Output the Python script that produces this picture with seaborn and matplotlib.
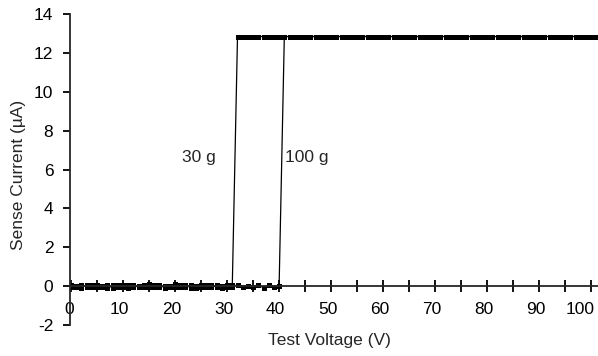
import matplotlib
matplotlib.use("Agg")
import matplotlib.pyplot as plt
import matplotlib.transforms as mtransforms
import seaborn as sns
import pandas as pd

# Data
v30_low = list(range(0, 32))
i30_low = [-0.05, 0.02, -0.08, 0.06, -0.03, 0.08, -0.06, 0.04, -0.09, 0.05,
           -0.02, 0.07, -0.07, 0.03, -0.05, 0.09, -0.04, 0.06, -0.08, 0.02,
           -0.06, 0.08, -0.03, 0.05, -0.09, 0.04, -0.02, 0.07, -0.07, 0.03,
           -0.05, 0.06]
v30_high = list(range(32, 102))
i30_high = [12.84] * len(v30_high)

v100_low = list(range(0, 41))
i100_low = [0.04, -0.07, 0.06, -0.04, 0.08, -0.06, 0.03, -0.08, 0.07, -0.03,
            0.05, -0.09, 0.04, -0.05, 0.08, -0.02, 0.06, -0.07, 0.03, -0.05,
            0.09, -0.04, 0.05, -0.08, 0.02, -0.06, 0.07, -0.03, 0.06, -0.09,
            0.04, -0.05, 0.08, -0.07, 0.03, -0.06, 0.05, -0.08, 0.07, -0.04,
            0.02]
v100_high = list(range(41, 102))
i100_high = [12.84] * len(v100_high)

series_labels = ["30 g", "100 g"]
x_ticks = list(range(0, 101, 10))
x_minor_ticks = list(range(5, 101, 10))
y_ticks = list(range(-2, 15, 2))

df = pd.concat([
    pd.DataFrame({"V": v30_low + v30_high, "I": i30_low + i30_high, "load": "30 g"}),
    pd.DataFrame({"V": v100_low + v100_high, "I": i100_low + i100_high, "load": "100 g"}),
])

sns.set_style("ticks")
plt.rcParams["font.family"] = ["Liberation Sans", "DejaVu Sans"]
plt.rcParams["axes.unicode_minus"] = False

FS = 12.5
fig = plt.figure(figsize=(5.98, 3.56), dpi=100)
ax = fig.add_axes([70 / 598, 31 / 356, 528 / 598, 311 / 356])

sns.lineplot(data=df, x="V", y="I", units="load", estimator=None, sort=False,
             color="black", linewidth=0.9, marker="s", markersize=3.6,
             markeredgewidth=0, ax=ax)

ax.set_xlim(-0.2, 101.3)
ax.set_ylim(-2, 14)
ax.set_xticks(x_ticks)
ax.set_xticks(x_minor_ticks, minor=True)
ax.set_yticks(y_ticks)
ax.spines["top"].set_visible(False)
ax.spines["right"].set_visible(False)
ax.spines["bottom"].set_position(("data", 0))
ax.spines["left"].set_linewidth(1.3)
ax.spines["bottom"].set_linewidth(1.3)
ax.tick_params(axis="x", which="both", direction="inout", length=9, width=1.3,
               labelsize=FS, pad=7, colors="black")
ax.tick_params(axis="y", direction="out", length=5, width=1.3, labelsize=FS, pad=7, colors="black")
ax.set_xlabel("Test Voltage (V)", fontsize=FS)
ax.set_ylabel("Sense Current (µA)", fontsize=FS)
ax.xaxis.set_label_coords(0.492, -0.025)
ax.yaxis.set_label_coords(-0.083, 0.482)

# Excel-like label placement: slightly left of the tick, last label kept inside
xlabels = ax.get_xticklabels()
for i, lab in enumerate(xlabels):
    if i == 0:
        dx_px = -2
    elif i == len(xlabels) - 1:
        dx_px = -11
    else:
        dx_px = -3.5
    lab.set_transform(lab.get_transform() +
                      mtransforms.ScaledTranslation(dx_px / 100, 0, fig.dpi_scale_trans))

ax.text(21.3, 6.6, series_labels[0], fontsize=FS, ha="left", va="center")
ax.text(41.2, 6.6, series_labels[1], fontsize=FS, ha="left", va="center")

fig.savefig("out.png", dpi=100)
